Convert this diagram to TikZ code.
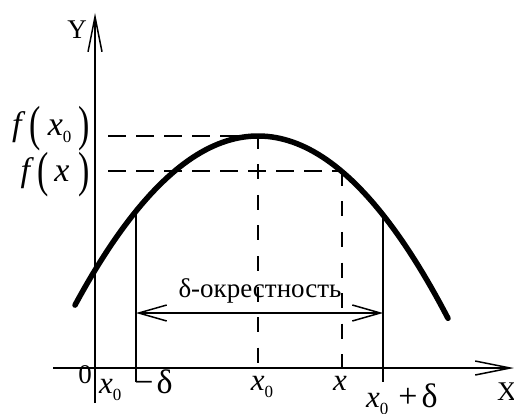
\documentclass[tikz,border=0pt]{standalone}
\usepackage{fontspec}
\setmainfont{Liberation Serif}
\usetikzlibrary{arrows.meta}
\newcommand\mylp{\raisebox{-5pt}{\scalebox{1}[1.45]{(}}}
\newcommand\myrp{\raisebox{-5pt}{\scalebox{1}[1.45]{)}}}
\newcommand\mysub[1]{{\fontsize{17}{17}\selectfont\raisebox{-7pt}{#1}}}
\newcommand\myop[1]{{\fontsize{34}{34}\selectfont #1}}
\begin{document}
\begin{tikzpicture}[x=1pt,y=-1pt]
\useasboundingbox (0,0) rectangle (514,414);
\tikzset{
  axisline/.style={line width=1.5pt, -{Straight Barb[length=35pt,width=14pt,line width=1.5pt]}},
  thinline/.style={line width=1.5pt},
  dashh/.style={line width=1.5pt, dash pattern=on 18pt off 10pt},
  dashv/.style={line width=1.5pt, dash pattern=on 15pt off 15.5pt},
  curve/.style={line width=5.5pt, line cap=round},
  spanarrow/.style={line width=1.5pt, {Straight Barb[length=28pt,width=16pt,line width=1.5pt]}-{Straight Barb[length=28pt,width=16pt,line width=1.5pt]}},
  lbl/.style={inner sep=0pt, font=\fontsize{27}{29}\selectfont},
  mlbl/.style={inner sep=0pt, font=\fontsize{31}{33}\selectfont},
  flbl/.style={inner sep=0pt, font=\fontsize{34}{36}\selectfont}
}
% coordinates
\coordinate (ybot) at (95,403);
\coordinate (ytop) at (95,13);
\coordinate (xl) at (53,368);
\coordinate (xr) at (514,368);
\coordinate (peak) at (258,136);
\coordinate (fx0l) at (108,136);
\coordinate (fxl) at (108,171);
\coordinate (fxr) at (342,171);
\coordinate (x0b) at (258,368);
\coordinate (xb) at (342,368);
\coordinate (lt) at (136,211);
\coordinate (lb) at (136,382);
\coordinate (rt) at (383,215);
\coordinate (rb) at (383,382);
\coordinate (al) at (136,313);
\coordinate (ar) at (383,313);
% axes
\draw[axisline] (ybot) -- (ytop);
\draw[axisline] (xl) -- (xr);
% dashed guides
\draw[dashh] (fx0l) -- (peak);
\draw[dashh] (fxl) -- (fxr);
\draw[dashv] ([yshift=2pt]peak) -- (x0b);
\draw[dashv] (fxr) -- (xb);
% solid verticals
\draw[thinline] (lt) -- (lb);
\draw[thinline] (rt) -- (rb);
% neighbourhood arrow
\draw[spanarrow] (al) -- (ar);
% curve
\draw[curve] plot[domain=75:448,samples=90] (\x,{136+0.505*((\x-258)/10)*((\x-258)/10)});
% labels
\node[lbl] (ylab) at (77,30) {Y};
\node[lbl, anchor=west] (xlab) at (497,392) {X};
\node[lbl] (zero) at (85,375) {0};
\node[lbl] (nbh) at (260,291) {δ-окрестность};
\node[flbl, anchor=base east] (fx0) at (90,136) {\textit{f}\hspace{4pt}\mylp\hspace{7pt}\textit{x}\mysub{0}\hspace{7pt}\myrp};
\node[flbl, anchor=base east] (fx) at (90,182) {\textit{f}\hspace{3pt}\mylp\hspace{6pt}\textit{x}\hspace{9pt}\myrp};
\node[mlbl, anchor=base west] (xmd) at (99,393) {\textit{x}\mysub{0}\hspace{13pt}\myop{−}\hspace{3pt}\myop{δ}};
\node[mlbl, anchor=base] (x0lab) at (262,390) {\textit{x}\mysub{0}};
\node[mlbl, anchor=base] (xlab2) at (340,390) {\textit{x}};
\node[mlbl, anchor=base west] (xpd) at (366,407) {\textit{x}\mysub{0}\hspace{10pt}\myop{+}\hspace{4pt}\myop{δ}};
\end{tikzpicture}
\end{document}
